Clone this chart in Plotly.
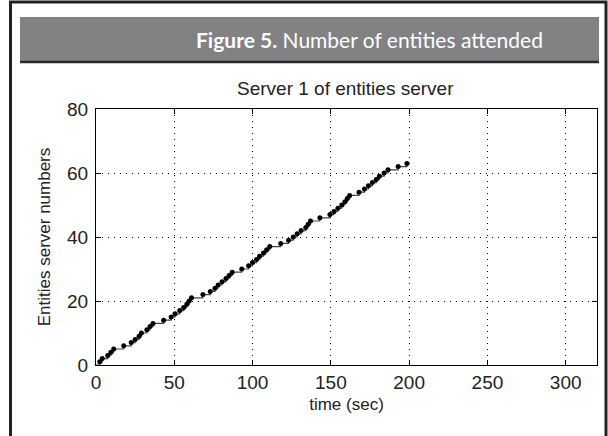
import plotly.graph_objects as go

# Event times (sec) at which the count of attended entities increases by one
event_times = [2.4, 4, 7.5, 9.5, 11.3, 17.7, 22.5, 25, 27.5, 29,
               32.5, 34.5, 36.4, 43.2, 48, 50.5, 53.5, 56, 58, 59.5,
               61, 68.3, 73, 76, 78, 80.5, 83, 85, 87, 93.1,
               97.5, 100, 102.5, 104.5, 107, 109, 111, 118, 123, 126,
               128.5, 131, 134, 135.5, 137, 143, 149.4, 152, 154.5, 157,
               159, 160.5, 162, 168, 171.5, 174, 176.5, 179, 181, 184,
               186.5, 193, 198.6]
entity_counts = list(range(1, len(event_times) + 1))

x_ticks = [0, 50, 100, 150, 200, 250, 300]
y_ticks = [0, 20, 40, 60, 80]

W, H = 608, 436
L, R, T, B = 96, 11, 109, 71
pw, ph = W - L - R, H - T - B


def px(x):
    return (x - L) / pw


def py(y):
    return (H - B - y) / ph


fig = go.Figure()
fig.add_trace(go.Scatter(
    x=[0] + event_times, y=[0] + entity_counts,
    mode="lines", line=dict(color="#444444", width=1.2, shape="hv"),
    hoverinfo="skip", showlegend=False))
fig.add_trace(go.Scatter(
    x=event_times, y=entity_counts,
    mode="markers", marker=dict(color="black", size=5),
    showlegend=False))

axis_common = dict(
    showline=True, linecolor="black", linewidth=1, mirror="ticks",
    ticks="inside", ticklen=5, tickcolor="black",
    showgrid=True, gridcolor="black", gridwidth=1, griddash="1px,5px",
    zeroline=False,
    tickfont=dict(family="Liberation Sans, Arial", size=19, color="#222"),
)

fig.update_layout(
    width=W, height=H,
    margin=dict(l=L, r=R, t=T, b=B),
    paper_bgcolor="white", plot_bgcolor="white",
    xaxis=dict(range=[0, 320], tickvals=x_ticks, **axis_common,
               title=dict(text="time (sec)", standoff=6,
                          font=dict(family="Liberation Sans, Arial", size=17, color="#222"))),
    yaxis=dict(range=[0, 80], tickvals=y_ticks, ticklabelstandoff=3, **axis_common,
               title=dict(text="Entities server numbers", standoff=12,
                          font=dict(family="Liberation Sans, Arial", size=17, color="#222"))),
    shapes=[
        # outer frame
        dict(type="rect", xref="paper", yref="paper",
             x0=px(10.5), x1=px(606), y0=py(2), y1=py(460),
             line=dict(color="#222", width=3), layer="below"),
        # header bar
        dict(type="rect", xref="paper", yref="paper",
             x0=px(20), x1=px(599), y0=py(17), y1=py(61),
             line=dict(width=0), fillcolor="#828285", layer="below"),
        dict(type="line", xref="paper", yref="paper",
             x0=px(20), x1=px(599), y0=py(62), y1=py(62),
             line=dict(color="#2a2a2a", width=2.5), layer="below"),
    ],
    annotations=[
        dict(text="<b>Figure 5.</b> Number of entities attended",
             xref="paper", yref="paper", x=px(369), y=py(39),
             xanchor="center", yanchor="middle", showarrow=False,
             font=dict(family="Lato, Noto Sans", size=21, color="white")),
        dict(text="Server 1 of entities server",
             xref="paper", yref="paper", x=px(345), y=py(88),
             xanchor="center", yanchor="middle", showarrow=False,
             font=dict(family="Liberation Sans, Arial", size=19, color="#222")),
    ],
)

fig.write_html("out.html", config={"displayModeBar": False},
               post_script="document.body.style.margin='0';"
                           "document.body.style.overflow='hidden';")
